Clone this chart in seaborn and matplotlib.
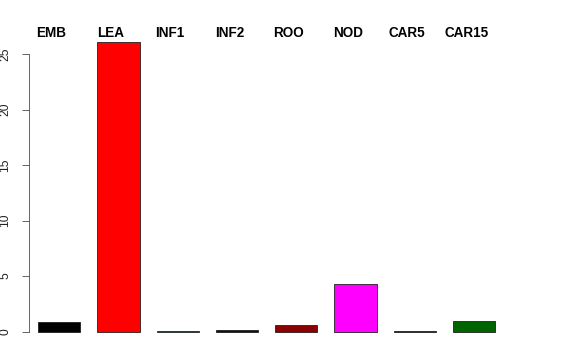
import matplotlib
matplotlib.use("Agg")
import matplotlib.pyplot as plt
import matplotlib.transforms as mtransforms
import seaborn as sns
import pandas as pd

categories = ["EMB", "LEA", "INF1", "INF2", "ROO", "NOD", "CAR5", "CAR15"]
values = [0.90, 26.08, 0.04, 0.12, 0.58, 4.28, 0.07, 0.93]
colors = ["#000000", "#FF0000", "#2E8B57", "#101010", "#8B0000", "#FF00FF", "#1C1C5A", "#006400"]
y_ticks = [0, 5, 10, 15, 20, 25]

sns.set_theme(style="white")
plt.rcParams["font.family"] = ["Liberation Sans", "DejaVu Sans"]

df = pd.DataFrame({"cat": categories, "val": values})

W, H = 576, 360
fig = plt.figure(figsize=(8, 5), dpi=72)
# axes placement in pixels
left_px, right_px = 28.5, 560
zero_px = 331.5  # from top
unit_y = 11.1
ymax = 26.5
top_px = zero_px - ymax * unit_y
ax = fig.add_axes([left_px / W, (H - zero_px) / H, (right_px - left_px) / W, (zero_px - top_px) / H])

sns.barplot(data=df, x="cat", y="val", hue="cat", palette=colors, order=categories,
            width=0.716, edgecolor="#1a1a1a", linewidth=0.8, legend=False, ax=ax,
            saturation=1)

unit_x = 59.26
x0 = -(59.2 - left_px) / unit_x
ax.set_xlim(x0, x0 + (right_px - left_px) / unit_x)
ax.set_ylim(0, ymax)
for b in ax.patches:
    b.set_clip_on(False)

ax.set_xlabel("")
ax.set_ylabel("")
ax.set_xticks([])
ax.set_yticks(y_ticks)
ax.set_yticklabels([str(t) for t in y_ticks], rotation=90, va="center", fontsize=12)
ax.tick_params(axis="y", left=True, length=7, width=0.8, color="#444444", pad=10, labelcolor="#222222")
for s in ["top", "right", "bottom"]:
    ax.spines[s].set_visible(False)
ax.spines["left"].set_bounds(0, 25)
ax.spines["left"].set_color("#444444")
ax.spines["left"].set_linewidth(0.8)

trans = mtransforms.blended_transform_factory(ax.transData, fig.transFigure)
for i, c in enumerate(categories):
    ax.text(i - 0.13, 1 - 32.7 / H, c, transform=trans, ha="center", va="center",
            fontsize=13.5, fontweight="bold", color="black", clip_on=False)

fig.savefig("out.png", dpi=72, facecolor="white")
